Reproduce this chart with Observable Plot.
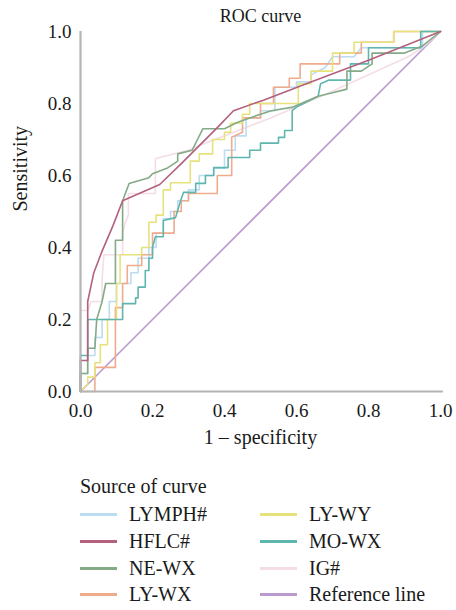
<!DOCTYPE html>
<html>
<head>
<meta charset="utf-8">
<script src="https://cdn.jsdelivr.net/npm/d3@7"></script>
<script src="https://cdn.jsdelivr.net/npm/@observablehq/plot@0.6"></script>
<style>
  body { margin: 0; background: #fff; font-family: "Liberation Serif", "DejaVu Serif", serif; }
  #wrap { position: relative; width: 456px; height: 610px; }
  #chart { position: absolute; left: 0; top: 0; }
  .lg { position: absolute; font-size: 20px; color: #1a1a1a; line-height: 22px; white-space: nowrap; }
  .sw { position: absolute; width: 37px; height: 3px; }
</style>
</head>
<body>
<div id="wrap"><div id="chart"></div></div>
<script>
// ---- data (x = 1 - specificity, y = sensitivity) ----
const seriesNames = ["LYMPH#", "HFLC#", "NE-WX", "LY-WX", "LY-WY", "MO-WX", "IG#", "Reference line"];
const seriesColors = ["#bcdcf2", "#b3617d", "#84aa86", "#f0ab8d", "#e6e27c", "#5fb6ae", "#f5dde6", "#bb9ad0"];
const drawOrder = ["Reference line", "IG#", "LYMPH#", "LY-WX", "LY-WY", "MO-WX", "NE-WX", "HFLC#"];

const lymph = [[0,0],[0,0.05],[0.02,0.05],[0.02,0.1],[0.04,0.1],[0.04,0.15],[0.06,0.15],[0.06,0.2],[0.08,0.2],[0.08,0.25],[0.1,0.25],[0.1,0.3],[0.14,0.3],[0.14,0.33],[0.16,0.33],[0.16,0.37],[0.19,0.37],[0.19,0.4],[0.21,0.4],[0.21,0.44],[0.23,0.44],[0.23,0.48],[0.25,0.48],[0.25,0.5],[0.27,0.5],[0.27,0.53],[0.3,0.53],[0.3,0.56],[0.33,0.56],[0.33,0.6],[0.37,0.6],[0.37,0.62],[0.4,0.62],[0.4,0.67],[0.43,0.67],[0.43,0.71],[0.46,0.71],[0.46,0.76],[0.5,0.76],[0.5,0.78],[0.54,0.78],[0.54,0.845],[0.6,0.845],[0.6,0.86],[0.64,0.86],[0.64,0.88],[0.68,0.9],[0.7,0.93],[0.76,0.93],[0.78,0.955],[0.95,0.955],[0.95,1],[1,1]];
const hflc = [[0,0],[0,0.086],[0.02,0.086],[0.02,0.25],[0.037,0.33],[0.06,0.39],[0.09,0.46],[0.117,0.53],[0.22,0.575],[0.28,0.633],[0.38,0.733],[0.425,0.78],[0.51,0.81],[0.64,0.86],[0.8,0.92],[1,1]];
const neWx = [[0,0],[0,0.05],[0.02,0.05],[0.02,0.12],[0.04,0.12],[0.045,0.2],[0.06,0.25],[0.07,0.3],[0.097,0.3],[0.097,0.42],[0.117,0.42],[0.117,0.53],[0.135,0.578],[0.19,0.594],[0.2,0.605],[0.24,0.62],[0.27,0.64],[0.27,0.66],[0.31,0.67],[0.325,0.7],[0.34,0.73],[0.4,0.73],[0.435,0.747],[0.47,0.76],[0.53,0.78],[0.59,0.79],[0.66,0.82],[0.7,0.83],[0.74,0.84],[0.74,0.89],[0.78,0.89],[0.81,0.91],[0.81,0.94],[0.9,0.94],[0.95,0.96],[1,1]];
const lyWx = [[0,0],[0.04,0],[0.04,0.067],[0.097,0.067],[0.097,0.233],[0.117,0.233],[0.117,0.3],[0.13,0.3],[0.13,0.35],[0.17,0.35],[0.17,0.38],[0.2,0.38],[0.2,0.44],[0.26,0.44],[0.26,0.5],[0.28,0.5],[0.28,0.53],[0.3,0.53],[0.3,0.55],[0.38,0.55],[0.38,0.6],[0.42,0.6],[0.42,0.706],[0.45,0.72],[0.45,0.76],[0.5,0.76],[0.5,0.8],[0.536,0.8],[0.536,0.845],[0.58,0.845],[0.58,0.87],[0.61,0.87],[0.61,0.91],[0.72,0.91],[0.72,0.94],[0.78,0.94],[0.78,0.97],[0.87,0.97],[0.87,1],[1,1]];
const lyWy = [[0,0],[0.02,0.02],[0.02,0.04],[0.04,0.04],[0.04,0.08],[0.055,0.08],[0.055,0.13],[0.075,0.13],[0.075,0.2],[0.1,0.2],[0.1,0.3],[0.11,0.3],[0.11,0.38],[0.17,0.38],[0.17,0.4],[0.19,0.4],[0.19,0.47],[0.21,0.47],[0.21,0.49],[0.23,0.49],[0.23,0.56],[0.25,0.56],[0.25,0.58],[0.305,0.58],[0.305,0.64],[0.33,0.64],[0.33,0.66],[0.367,0.66],[0.367,0.7],[0.4,0.7],[0.4,0.72],[0.417,0.72],[0.417,0.745],[0.45,0.745],[0.45,0.77],[0.47,0.77],[0.47,0.8],[0.605,0.8],[0.605,0.855],[0.64,0.855],[0.64,0.89],[0.7,0.89],[0.7,0.94],[0.76,0.94],[0.76,0.97],[0.87,0.97],[0.87,1],[1,1]];
const moWx = [[0,0],[0,0.1],[0.02,0.1],[0.02,0.2],[0.117,0.2],[0.117,0.244],[0.153,0.244],[0.153,0.26],[0.16,0.26],[0.16,0.29],[0.18,0.29],[0.18,0.336],[0.19,0.336],[0.19,0.37],[0.2,0.37],[0.2,0.4],[0.208,0.43],[0.23,0.43],[0.23,0.475],[0.264,0.483],[0.278,0.53],[0.286,0.553],[0.32,0.553],[0.32,0.578],[0.347,0.578],[0.347,0.6],[0.37,0.6],[0.37,0.622],[0.41,0.622],[0.41,0.65],[0.47,0.65],[0.47,0.67],[0.5,0.67],[0.5,0.69],[0.55,0.69],[0.55,0.706],[0.567,0.706],[0.567,0.725],[0.588,0.725],[0.588,0.78],[0.6,0.79],[0.66,0.82],[0.667,0.855],[0.69,0.865],[0.75,0.865],[0.75,0.91],[0.8,0.91],[0.8,0.955],[0.945,0.955],[0.945,1],[1,1]];
const ig = [[0,0],[0,0.225],[0.02,0.225],[0.03,0.25],[0.06,0.25],[0.06,0.31],[0.065,0.38],[0.117,0.38],[0.117,0.44],[0.125,0.47],[0.133,0.49],[0.133,0.55],[0.208,0.55],[0.208,0.647],[0.3,0.67],[0.33,0.683],[0.528,0.76],[0.686,0.828],[0.91,0.93],[0.95,0.955],[1,1]];
const refLine = [[0,0],[1,1]];
const xTicks = [0, 0.2, 0.4, 0.6, 0.8, 1.0];
const yTicks = [0, 0.2, 0.4, 0.6, 0.8, 1.0];

const seriesPoints = {"LYMPH#": lymph, "HFLC#": hflc, "NE-WX": neWx, "LY-WX": lyWx, "LY-WY": lyWy, "MO-WX": moWx, "IG#": ig, "Reference line": refLine};
const rows = drawOrder.flatMap(name => seriesPoints[name].map(([x, y]) => ({series: name, x, y})));

const W = 456, H = 452;
const chart = Plot.plot({
  width: W,
  height: H,
  marginLeft: 80,
  marginRight: 16,
  marginTop: 31,
  marginBottom: H - 391,
  style: {fontFamily: "'Liberation Serif', 'DejaVu Serif', serif", fontSize: "19px", color: "#1a1a1a", background: "#fff"},
  x: {domain: [0, 1]},
  y: {domain: [0, 1]},
  color: {domain: seriesNames, range: seriesColors},
  marks: [
    Plot.line(rows, {x: "x", y: "y", z: "series", stroke: "series", strokeWidth: 1.6, curve: "linear"}),
    Plot.ruleX([0], {stroke: "#b4b4b4", strokeWidth: 2.2}),
    Plot.ruleY([0], {stroke: "#b4b4b4", strokeWidth: 2.2, x1: 0, x2: 1.008}),
    Plot.axisX({ticks: xTicks, tickSize: 0, tickPadding: 12, tickFormat: d3.format(".1f"), label: null}),
    Plot.axisY({ticks: yTicks, tickSize: 0, tickPadding: 9, tickFormat: d3.format(".1f"), label: null}),
    Plot.text(["ROC curve"], {text: d => d, frameAnchor: "top", lineAnchor: "middle", dy: -15, fontSize: 18}),
    Plot.text(["1 \u2013 specificity"], {text: d => d, frameAnchor: "bottom", lineAnchor: "middle", dy: 46, fontSize: 20}),
    Plot.text(["Sensitivity"], {text: d => d, frameAnchor: "left", lineAnchor: "middle", dx: -60, rotate: -90, fontSize: 20})
  ]
});
document.getElementById("chart").appendChild(chart);

// ---- legend ----
const wrap = document.getElementById("wrap");
function addText(txt, left, centerY) {
  const d = document.createElement("div");
  d.className = "lg";
  d.textContent = txt;
  d.style.left = left + "px";
  d.style.top = (centerY - 11) + "px";
  wrap.appendChild(d);
}
addText("Source of curve", 80, 486);
const legendCols = [["LYMPH#", "HFLC#", "NE-WX", "LY-WX"], ["LY-WY", "MO-WX", "IG#", "Reference line"]];
const colX = [80, 260];
const rowY = [514, 541, 568, 594];
legendCols.forEach((col, ci) => {
  col.forEach((name, ri) => {
    const sw = document.createElement("div");
    sw.className = "sw";
    sw.style.left = colX[ci] + "px";
    sw.style.top = (rowY[ri] - 1.5) + "px";
    sw.style.background = seriesColors[seriesNames.indexOf(name)];
    wrap.appendChild(sw);
    addText(name, colX[ci] + 49, rowY[ri]);
  });
});
</script>
</body>
</html>
